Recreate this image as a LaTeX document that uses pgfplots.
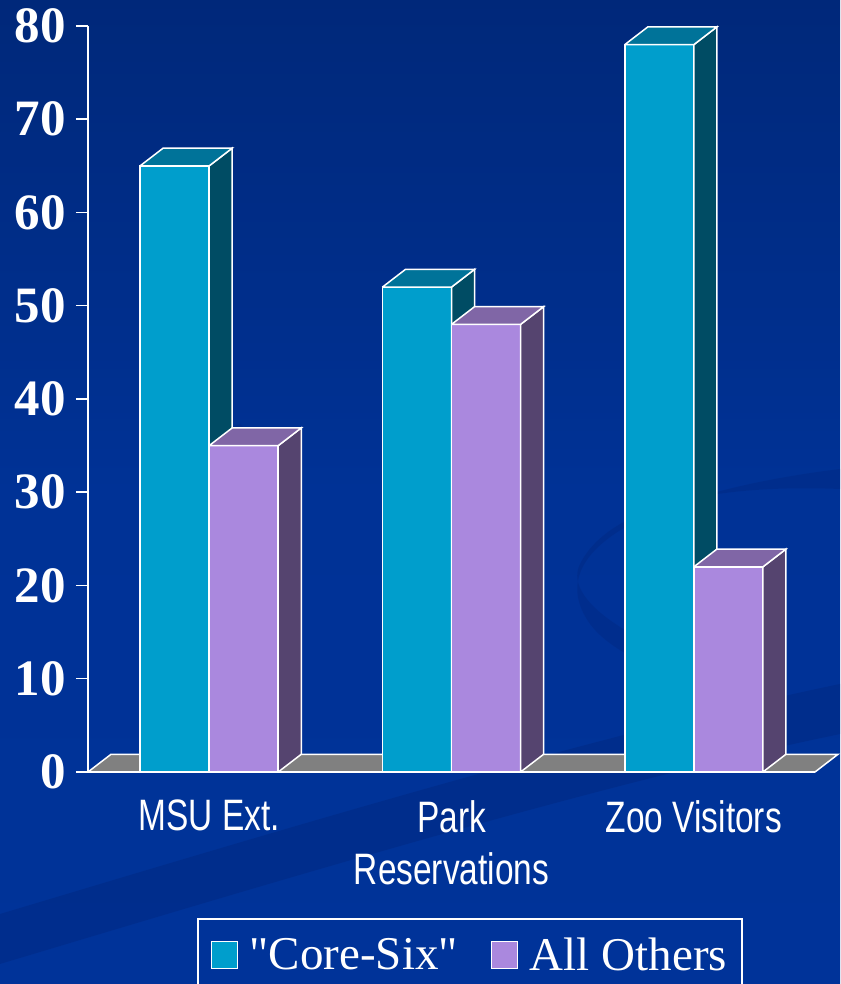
\documentclass[border=0pt]{standalone}
\usepackage{fontspec}
\setmainfont{Liberation Serif}
\newfontfamily\narrowsans[FakeStretch=0.76]{Liberation Sans}
\newfontfamily\legendfont[Ligatures=TeXOff]{Liberation Serif}
\usepackage{pgfplots}
\pgfplotsset{compat=1.18}

\definecolor{bgtop}{RGB}{0,40,122}
\definecolor{bgmid}{RGB}{0,50,150}
\definecolor{bgbot}{RGB}{0,51,153}
\definecolor{ribbon}{RGB}{0,36,120}
\definecolor{coreFront}{RGB}{0,158,204}
\definecolor{coreSide}{RGB}{0,76,100}
\definecolor{coreTop}{RGB}{0,115,153}
\definecolor{othFront}{RGB}{170,136,222}
\definecolor{othSide}{RGB}{85,68,111}
\definecolor{othTop}{RGB}{128,102,166}
\definecolor{floorgray}{RGB}{128,128,128}

% one 3-D bar: left x, right x, value, front / side / top colour
\newcommand{\threedbar}[6]{%
  \pgfmathsetmacro\xa{#1+0.095}%
  \pgfmathsetmacro\xb{#2+0.095}%
  \pgfmathsetmacro\vt{#3+1.9}%
  \edef\temp{%
    \noexpand\addplot[forget plot, fill=#4, draw=white, line width=1.5pt]
      coordinates {(#1,0) (#2,0) (#2,#3) (#1,#3) (#1,0)};
    \noexpand\addplot[forget plot, fill=#5, draw=white, line width=1.5pt]
      coordinates {(#2,0) (\xb,1.9) (\xb,\vt) (#2,#3) (#2,0)};
    \noexpand\addplot[forget plot, fill=#6, draw=white, line width=1.5pt]
      coordinates {(#1,#3) (\xa,\vt) (\xb,\vt) (#2,#3) (#1,#3)};
  }\temp}

\begin{document}
\begin{tikzpicture}
  \path[use as bounding box] (0,0) rectangle (840pt,984pt);
  \shade[top color=bgtop, bottom color=bgbot, middle color=bgmid] (0,0) rectangle (840pt,984pt);
  % faint ribbons of the slide template
  \begin{scope}
    \clip (0,0) rectangle (840pt,984pt);
    \fill[ribbon, opacity=0.35] (0pt,20pt) .. controls (300pt,110pt) and (600pt,200pt) .. (840pt,250pt)
      -- (840pt,300pt) .. controls (600pt,250pt) and (300pt,160pt) .. (0pt,70pt) -- cycle;
    \fill[ribbon, opacity=0.3] (840pt,515pt) .. controls (640pt,490pt) and (540pt,430pt) .. (590pt,360pt)
      .. controls (620pt,320pt) and (700pt,300pt) .. (760pt,280pt)
      -- (760pt,300pt) .. controls (650pt,330pt) and (560pt,380pt) .. (580pt,420pt)
      .. controls (610pt,480pt) and (720pt,500pt) .. (840pt,495pt) -- cycle;
    \fill[ribbon, opacity=0.25] (240pt,560pt) .. controls (120pt,520pt) and (110pt,440pt) .. (200pt,380pt)
      -- (215pt,385pt) .. controls (140pt,440pt) and (150pt,510pt) .. (250pt,550pt) -- cycle;
  \end{scope}

  \begin{axis}[
    at={(88pt,212pt)}, anchor=south west,
    scale only axis, width=727pt, height=746pt,
    xmin=-0.5, xmax=2.5, ymin=0, ymax=80,
    clip=false,
    axis lines*=left,
    axis line style={white, line width=1.5pt},
    tick align=outside,
    major tick length=12pt,
    minor tick length=13pt,
    ytick={0,10,...,80},
    ytick style={white, line width=1.5pt},
    xtick={0,1,2},
    xtick style={draw=none},
    minor xtick={-0.5,0.5,1.5,2.5},
    minor x tick style={white, line width=1.5pt},
    xticklabels={MSU Ext., Park\\Reservations, Zoo Visitors},
    /pgf/number format/assume math mode=true,
    yticklabel style={font=\fontsize{51}{60}\selectfont\bfseries, text=white,
      anchor=east, inner sep=0pt, xshift=-10pt},
    xticklabel style={font=\narrowsans\fontsize{44}{52}\selectfont, text=white,
      anchor=north, align=center, inner sep=0pt, yshift=-16pt},
    legend image code/.code={\draw[#1] (0pt,-13.5pt) rectangle (26pt,13.5pt);},
    legend columns=2,
    legend style={at={(axis description cs:0,0)}, anchor=north west,
      xshift=109pt, yshift=-146pt,
      draw=white, line width=1.5pt, fill=none, text=white,
      font=\legendfont\fontsize{47}{50}\selectfont,
      inner xsep=13pt, inner ysep=17pt,
      nodes={inner sep=2pt},
      /tikz/every odd column/.append style={column sep=9.5pt},
      /tikz/every even column/.append style={column sep=31pt}},
  ]
    % floor
    \addplot[forget plot, fill=floorgray, draw=white, line width=1.5pt]
      coordinates {(-0.5,0) (2.5,0) (2.595,1.9) (-0.405,1.9) (-0.5,0)};

    % MSU Ext.
    \threedbar{-0.285}{0}{65}{coreFront}{coreSide}{coreTop}
    \threedbar{0}{0.285}{35}{othFront}{othSide}{othTop}
    % Park Reservations
    \threedbar{0.715}{1}{52}{coreFront}{coreSide}{coreTop}
    \threedbar{1}{1.285}{48}{othFront}{othSide}{othTop}
    % Zoo Visitors
    \threedbar{1.715}{2}{78}{coreFront}{coreSide}{coreTop}
    \threedbar{2}{2.285}{22}{othFront}{othSide}{othTop}

    \addlegendimage{fill=coreFront, draw=white, line width=1.5pt}
    \addlegendentry{"Core-Six"}
    \addlegendimage{fill=othFront, draw=white, line width=1.5pt}
    \addlegendentry{All Others}
  \end{axis}
\end{tikzpicture}
\end{document}
